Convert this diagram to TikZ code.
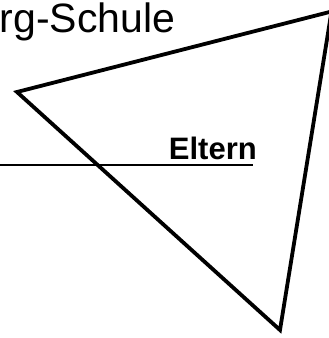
\documentclass[tikz,border=0pt]{standalone}
\usepackage{fontspec}
\setmainfont{Liberation Sans}
\begin{document}
\begin{tikzpicture}[x=1pt,y=-1pt,
  edge/.style={line width=3.8pt, line join=miter},
  rule/.style={line width=2pt},
  lbl/.style={anchor=base east, inner sep=0pt}]
\useasboundingbox (0,0) rectangle (329,338);
\clip (0,0) rectangle (329,338);
\coordinate (a) at (17,92);
\coordinate (b) at (331.5,11.5);
\coordinate (c) at (280,330);
\draw[edge] (a) -- (b) -- (c) -- cycle;
\coordinate (l0) at (0,165);
\coordinate (l1) at (253,165);
\draw[rule] (l0) -- (l1);
\node[lbl, font=\fontsize{41}{41}\selectfont] (title) at (175.5,32) {rg-Schule};
\node[lbl, font=\bfseries\fontsize{31}{31}\selectfont] (eltern) at (257,159) {Eltern};
\end{tikzpicture}
\end{document}
